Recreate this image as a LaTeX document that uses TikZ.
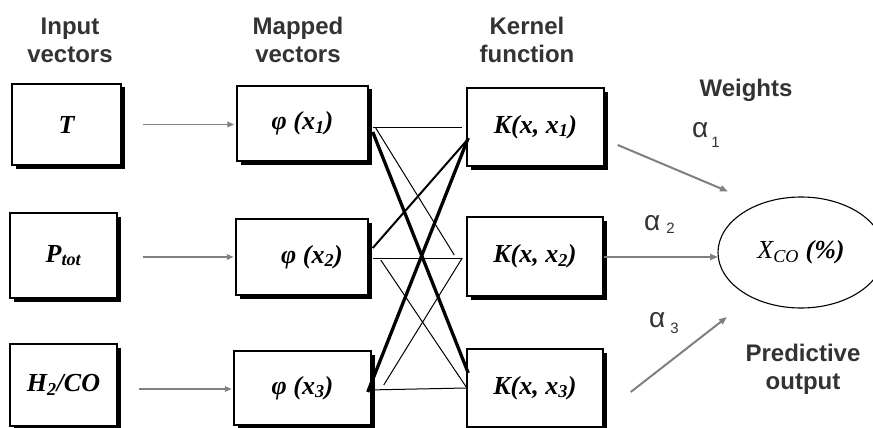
\documentclass[tikz,border=0pt]{standalone}
\usepackage{fontspec}
\setmainfont{Liberation Serif}
\newfontfamily\hsans{Liberation Sans}
\usetikzlibrary{shapes.geometric,shadows,arrows.meta,calc}
\definecolor{hdrgray}{HTML}{333333}
\definecolor{argray}{HTML}{808080}
\tikzset{
  box/.style={draw=black, line width=1.5pt, fill=white, rectangle, inner sep=0pt,
    drop shadow={shadow xshift=3.5pt, shadow yshift=-3.5pt, fill=black, opacity=1},
    font=\fontsize{26}{30}\selectfont\bfseries\itshape},
  hdr/.style={font=\hsans\bfseries\fontsize{24}{28}\selectfont, text=hdrgray, align=center, inner sep=0pt},
  wlab/.style={font=\hsans\fontsize{28}{30}\selectfont, text=hdrgray, inner sep=0pt},
  inarrow/.style={draw=argray, line width=1.6pt, -{Triangle[length=7pt,width=5.5pt]}},
  warrow/.style={draw=argray, line width=2pt, -{Triangle[length=8pt,width=6pt]}},
  thinln/.style={draw=black, line width=1pt},
  midln/.style={draw=black, line width=2pt},
  thickln/.style={draw=black, line width=3.3pt},
}
\newcommand{\subsz}{\fontsize{15}{15}\selectfont}
\begin{document}
\begin{tikzpicture}[x=1pt,y=-1pt]
\useasboundingbox[fill=white] (0,0) rectangle (873,428);

% headers
\node[hdr] (h1) at (70,40) {Input\\vectors};
\node[hdr] (h2) at (298,40) {Mapped\\vectors};
\node[hdr] (h3) at (527,40) {Kernel\\function};
\node[hdr] (h4) at (746,90) {Weights};
\node[hdr] (h5) at (803,369) {Predictive\\output};

% input boxes
\node[box, minimum width=109pt, minimum height=81pt] (in1) at (66.5,124.5) {T};
\node[box, minimum width=107pt, minimum height=85pt] (in2) at (63.5,255.5) {P\textsubscript{tot}};
\node[box, minimum width=107pt, minimum height=82pt] (in3) at (63.5,385) {H\textsubscript{2}/CO};

% mapped boxes
\node[box, minimum width=131pt, minimum height=75pt] (map1) at (302.5,123.5) {φ (x\textsubscript{1})};
\node[box, minimum width=132pt, minimum height=76pt] (map2) at (302,257) {\hspace*{20pt}φ (x\textsubscript{2})};
\node[box, minimum width=137pt, minimum height=74pt] (map3) at (302.5,388) {φ (x\textsubscript{3})};

% kernel boxes
\node[box, minimum width=137pt, minimum height=78pt] (K1) at (535.5,127) {K(x, x\textsubscript{1})};
\node[box, minimum width=136pt, minimum height=79pt] (K2) at (535,256.5) {K(x, x\textsubscript{2})};
\node[box, minimum width=136pt, minimum height=78pt] (K3) at (535,388) {K(x, x\textsubscript{3})};

% output ellipse
\node[draw=black, line width=1.1pt, ellipse, minimum width=166pt, minimum height=111pt, inner sep=0pt,
      font=\fontsize{26}{30}\selectfont\itshape] (pred) at (801,252.5)
      {X\textsubscript{CO} \textbf{(\%)}};

% input -> mapped arrows
\draw[inarrow] ($(in1.east)+(21,0)$) -- ($(in1.east -| map1.west)+(-2,0)$);
\draw[inarrow] ($(map2.west -| in2.east)+(25,0)$) -- ($(map2.west)+(-1.5,0)$);
\draw[inarrow] ($(map3.west -| in3.east)+(21,1)$) -- ($(map3.west)+(-1.5,1)$);

% mapped -> kernel connections
\draw[thinln]  ($(map1.east)+(4,3.5)$) -- ($(K1.west)+(-4,0)$);
\draw[thickln] ($(map1.east)+(4,8.5)$) -- ($(K3.west)+(2,-15)$);
\draw[thinln]  ($(map1.east)+(7,4.5)$) -- ($(K2.west)+(-12,-1.5)$);
\draw[midln]   ($(map2.east)+(4,-9)$) -- ($(K1.west)+(1,13)$);
\draw[thinln]  ($(map2.east)+(4,1)$) -- ($(K2.west)+(-4,1.5)$);
\draw[thinln]  ($(map2.east)+(12,3)$) -- ($(K3.west)+(0,-1)$);
\draw[thinln]  ($(map3.east)+(12,-3)$) -- ($(K2.west)+(-4,1.5)$);
\draw[thickln] ($(map3.east)+(-4,4)$) -- ($(K1.west)+(2,11)$);
\draw[thinln]  ($(map3.east)+(-4,2)$) -- ($(K3.west)+(0,0)$);

% kernel -> output arrows
\draw[warrow] ($(K1.east)+(13,18)$) -- ($(pred.center)+(-73,-61)$);
\draw[warrow] ($(K2.east)+(0,0.5)$) -- ($(pred.center)+(-83,4.5)$);
\draw[warrow] ($(K3.east)+(27,4)$) -- ($(pred.center)+(-74,64.5)$);

% weight labels
\node[wlab, anchor=base west] (a1) at (692,137) {α\hspace{3pt}\raisebox{-10pt}{\subsz 1}};
\node[wlab, anchor=base west] (a2) at (644,230) {α\hspace{6pt}\raisebox{-3pt}{\subsz 2}};
\node[wlab, anchor=base west] (a3) at (649,327) {α\hspace{5pt}\raisebox{-6pt}{\subsz 3}};
\end{tikzpicture}
\end{document}
